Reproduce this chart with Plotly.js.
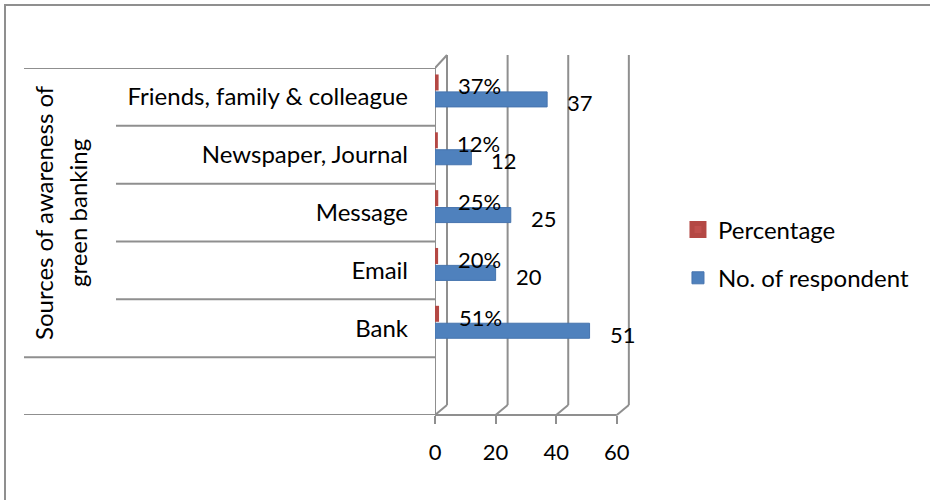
<!DOCTYPE html>
<html>
<head>
<meta charset="utf-8">
<script src="https://cdn.plot.ly/plotly-3.0.1.min.js"></script>
<style>
  html, body { margin: 0; padding: 0; background: #fff; }
  #chart { width: 930px; height: 500px; }
</style>
</head>
<body>
<div id="chart"></div>
<script>
// ---- data (bottom to top, as drawn) ----
const categories = ['Bank', 'Email', 'Message', 'Newspaper, Journal', 'Friends, family & colleague'];
const respondents = [51, 20, 25, 12, 37];
const percentages = [0.51, 0.20, 0.25, 0.12, 0.37];
const xTickVals = [0, 20, 40, 60];
const xTickText = ['0', '20', '40', '60'];
const seriesNames = ['Percentage', 'No. of respondent'];
const axisTitleLines = ['Sources of awareness of', 'green banking'];

const FONT = 'Lato, Calibri, "Open Sans", sans-serif';
const FS = 24;
const GRAY = '#8f8f8f';
const BLUE = '#4F81BD';
const RED = '#C0504D';

const traces = [
  {
    type: 'bar', orientation: 'h', name: seriesNames[0],
    x: percentages, y: categories,
    width: 0.19, offset: 0.155,
    marker: { color: RED, line: { color: '#B44844', width: 5 } },
    legendgroup: 'a', hoverinfo: 'x+y'
  },
  {
    type: 'bar', orientation: 'h', name: seriesNames[1],
    x: respondents, y: categories,
    width: 0.26, offset: -0.173,
    marker: { color: BLUE, line: { color: '#4674AE', width: 1 } },
    legendgroup: 'b', hoverinfo: 'x+y'
  }
];

const shapes = [];
// category divider lines on the left (front plane)
for (let i = -1; i <= categories.length; i++) {
  const yv = i - 0.5;
  const outer = (i === -1 || i === 0 || i === categories.length);
  shapes.push({
    type: 'line', xref: 'paper', xsizemode: 'pixel', xanchor: 0,
    x0: outer ? -411 : -319, x1: 0, yref: 'y', y0: yv, y1: yv,
    line: { color: GRAY, width: 2 }, layer: 'below'
  });
}
// floor front edge
shapes.push({ type: 'line', xref: 'x', x0: xTickVals[0], x1: xTickVals[xTickVals.length - 1],
  yref: 'paper', y0: 0, y1: 0, line: { color: GRAY, width: 2 }, layer: 'below' });
// left wall front edge
shapes.push({ type: 'line', xref: 'x', x0: 0, x1: 0, yref: 'paper', y0: 0, y1: 1,
  line: { color: GRAY, width: 2 }, layer: 'below' });
// top-left depth edge
shapes.push({ type: 'line', xref: 'x', xsizemode: 'pixel', xanchor: 0, x0: 0, x1: 12,
  yref: 'paper', ysizemode: 'pixel', yanchor: 1, y0: 0, y1: 13,
  line: { color: GRAY, width: 2 }, layer: 'below' });
// back wall gridlines + floor depth edges
xTickVals.forEach(t => {
  shapes.push({ type: 'line', xref: 'x', xsizemode: 'pixel', xanchor: t, x0: 12, x1: 12,
    yref: 'paper', ysizemode: 'pixel', yanchor: 0, y0: 10, y1: 360,
    line: { color: GRAY, width: 2 }, layer: 'below' });
  shapes.push({ type: 'line', xref: 'x', xsizemode: 'pixel', xanchor: t, x0: 0, x1: 12,
    yref: 'paper', ysizemode: 'pixel', yanchor: 0, y0: 0, y1: 10,
    line: { color: GRAY, width: 2 }, layer: 'below' });
});
// chart border
shapes.push({ type: 'rect', xref: 'paper', xsizemode: 'pixel', xanchor: 0, x0: -430, x1: 510,
  yref: 'paper', ysizemode: 'pixel', yanchor: 0, y0: -100, y1: 410,
  line: { color: GRAY, width: 2 }, fillcolor: 'rgba(0,0,0,0)', layer: 'below' });

const annotations = [];
categories.forEach((c, i) => {
  annotations.push({ x: respondents[i], y: c, xref: 'x', yref: 'y', text: String(respondents[i]),
    showarrow: false, xanchor: 'left', xshift: 18, yshift: -6,
    font: { family: FONT, size: FS - 2, color: '#000' } });
  annotations.push({ x: percentages[i], y: c, xref: 'x', yref: 'y',
    text: Math.round(percentages[i] * 100) + '%',
    showarrow: false, xanchor: 'left', xshift: 20, yshift: 11,
    font: { family: FONT, size: FS - 2, color: '#000' } });
});
axisTitleLines.forEach((line, k) => {
  annotations.push({ xref: 'paper', x: 0, xshift: (k === 0 ? 43 : 77) - 435, yref: 'paper', y: 0.582,
    text: line, textangle: -90, showarrow: false, xanchor: 'center', yanchor: 'middle',
    font: { family: FONT, size: FS, color: '#000' } });
});

const layout = {
  width: 930, height: 500,
  margin: { l: 435, r: 298, t: 68, b: 85 },
  paper_bgcolor: '#fff', plot_bgcolor: 'rgba(0,0,0,0)',
  font: { family: FONT, size: FS, color: '#000' },
  barmode: 'group',
  showlegend: true,
  legend: {
    xref: 'container', yref: 'container', x: 0.729, y: 0.585, xanchor: 'left', yanchor: 'top',
    traceorder: 'grouped', tracegroupgap: 14,
    font: { family: FONT, size: FS, color: '#000' }, bgcolor: 'rgba(0,0,0,0)'
  },
  xaxis: {
    range: [0, 65], tickvals: xTickVals, ticktext: xTickText,
    showgrid: false, zeroline: false, showline: false,
    ticks: 'outside', ticklen: 8, tickwidth: 2, tickcolor: GRAY, ticklabelstandoff: 10,
    tickfont: { family: FONT, size: FS - 2, color: '#000' }, fixedrange: true
  },
  yaxis: {
    type: 'category', categoryorder: 'array', categoryarray: categories,
    range: [-1.5, categories.length - 0.5],
    showgrid: false, zeroline: false, showline: false, ticks: '',
    ticklabelstandoff: 26, automargin: false,
    tickfont: { family: FONT, size: FS, color: '#000' }, fixedrange: true
  },
  shapes: shapes,
  annotations: annotations
};

Plotly.newPlot('chart', traces, layout, { displayModeBar: false, staticPlot: true });
</script>
</body>
</html>
